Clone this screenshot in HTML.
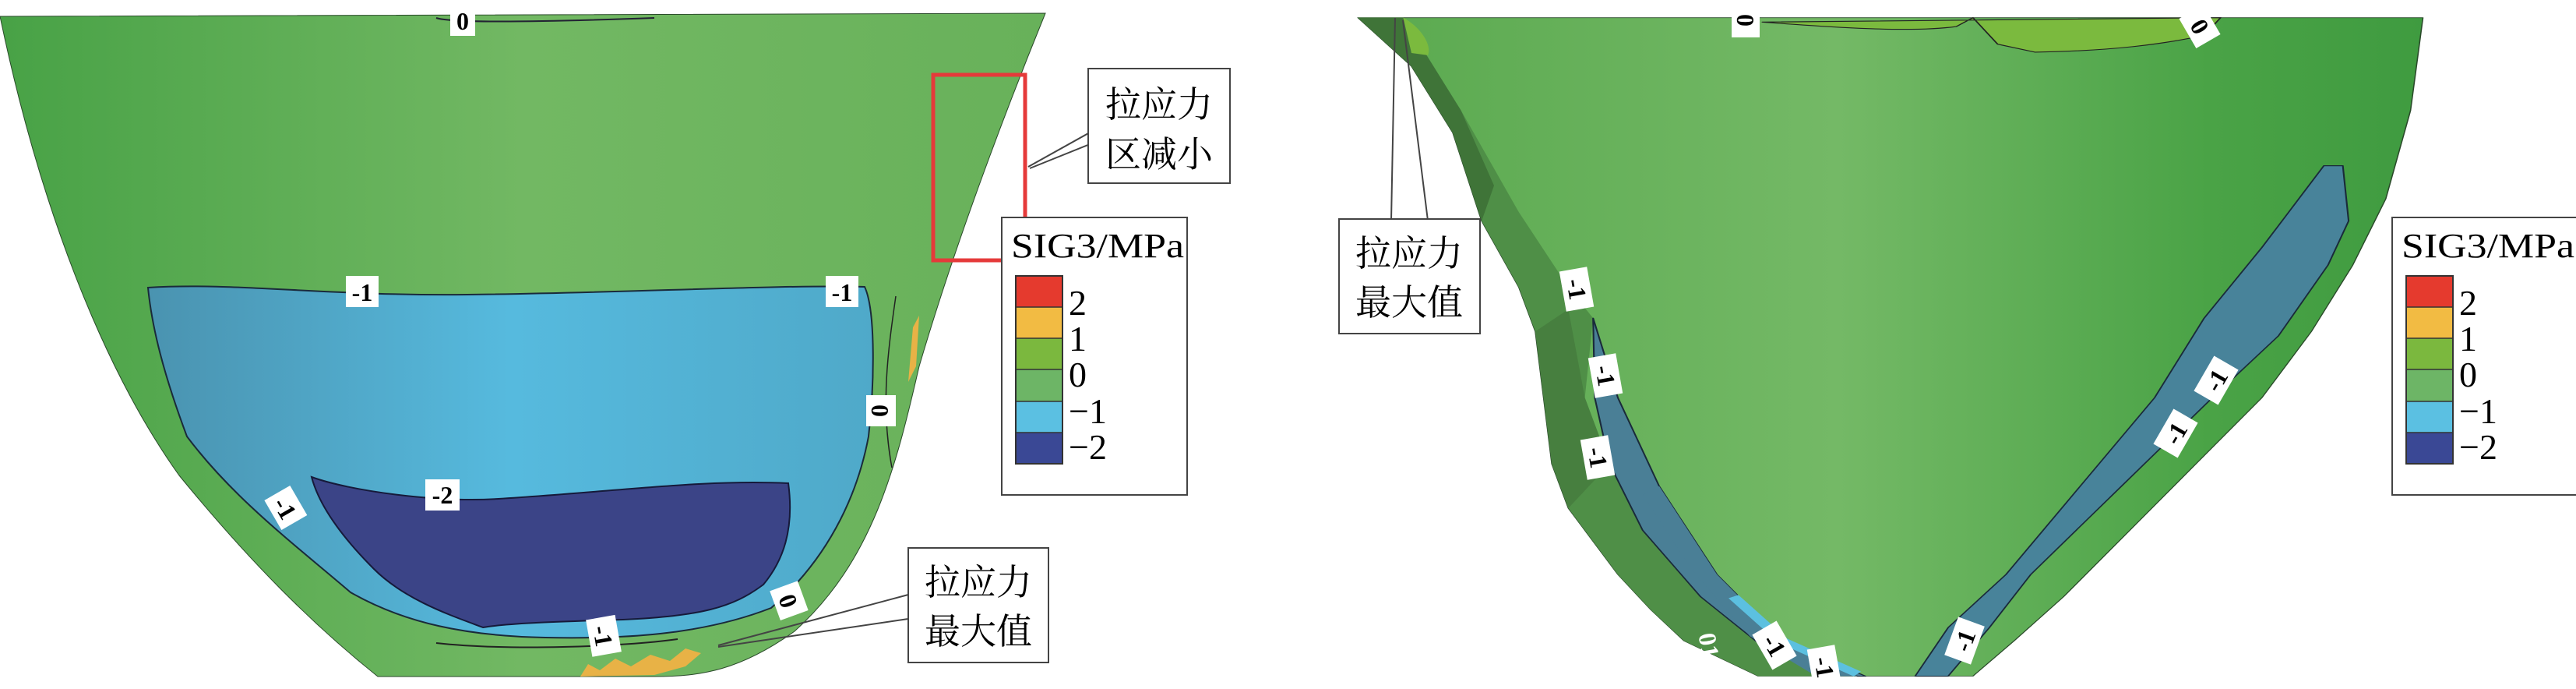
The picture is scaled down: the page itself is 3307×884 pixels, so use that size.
<!DOCTYPE html>
<html><head><meta charset="utf-8"><style>
html,body{margin:0;padding:0;background:#fff;}
svg{display:block;}
text{font-family:"Liberation Serif","Noto Serif CJK SC",serif;}
.cl{font-family:"Liberation Sans",sans-serif;font-size:32px;font-weight:bold;}
</style></head><body>
<svg width="3307" height="884" viewBox="0 0 3307 884" xmlns="http://www.w3.org/2000/svg">
<defs>
<linearGradient id="gL" x1="0" x2="1" y1="0" y2="0">
<stop offset="0" stop-color="#48a246"/><stop offset="0.5" stop-color="#72b863"/><stop offset="1" stop-color="#68b15a"/></linearGradient>
<linearGradient id="gR" x1="0" x2="1" y1="0" y2="0">
<stop offset="0" stop-color="#5aa94f"/><stop offset="0.45" stop-color="#74b966"/><stop offset="0.8" stop-color="#4aa346"/><stop offset="1" stop-color="#3f9b40"/></linearGradient>
<linearGradient id="bL" x1="0" x2="1" y1="0" y2="0">
<stop offset="0" stop-color="#4a93b0"/><stop offset="0.5" stop-color="#56bade"/><stop offset="1" stop-color="#4fa9c9"/></linearGradient>
</defs>

<!-- LEFT PANEL -->
<path d="M0,21 L1342,17 C1300,120 1230,300 1180,470 C1150,600 1120,720 1020,810 C950,860 900,868 840,868 L485,868 C400,800 320,720 230,610 C130,470 50,260 0,21 Z" fill="url(#gL)" stroke="#2a4a2a" stroke-width="1"/>
<path d="M560,23 C580,30 700,28 840,23" fill="none" stroke="#223" stroke-width="2"/>
<path d="M190,369 C300,362 420,380 600,378 C800,376 1000,365 1110,368 C1125,400 1122,500 1115,560 C1100,640 1060,720 990,780 C900,815 800,820 700,818 C600,816 520,800 450,760 C380,700 300,640 240,560 C210,480 195,420 190,369 Z" fill="url(#bL)" stroke="#1a2a3a" stroke-width="2"/>
<path d="M400,612 C450,630 560,645 640,640 C800,630 900,615 1012,620 C1020,680 1005,720 980,750 C940,780 900,790 800,795 C700,798 650,800 620,805 C580,790 520,770 480,730 C440,690 410,650 400,612 Z" fill="#3b4487" stroke="#161a3a" stroke-width="2"/>
<path d="M560,825 C650,835 800,830 870,820" fill="none" stroke="#222" stroke-width="2"/>
<path d="M745,868 L755,852 L770,860 L790,845 L810,855 L835,840 L860,848 L880,832 L900,838 L880,855 L840,866 Z" fill="#e8b246"/>
<path d="M1172,420 L1180,405 L1176,470 L1166,490 Z" fill="#e8b246"/>
<path d="M1150,380 C1140,450 1130,520 1145,600" fill="none" stroke="#222" stroke-width="1.5"/>
<g class="cl" text-anchor="middle">
<rect x="578" y="6" width="32" height="40" fill="#fff"/><text x="594" y="38">0</text>
<rect x="444" y="354" width="42" height="40" fill="#fff"/><text x="465" y="386">-1</text>
<rect x="1060" y="354" width="42" height="40" fill="#fff"/><text x="1081" y="386">-1</text>
<g transform="translate(1130,527) rotate(90)"><rect x="-20" y="-20" width="40" height="38" fill="#fff"/><text x="0" y="11">0</text></g>
<rect x="546" y="615" width="44" height="40" fill="#fff"/><text x="568" y="646">-2</text>
<g transform="translate(366,652) rotate(60)"><rect x="-22" y="-20" width="44" height="38" fill="#fff"/><text x="0" y="11">-1</text></g>
<g transform="translate(1012,771) rotate(70)"><rect x="-20" y="-20" width="40" height="38" fill="#fff"/><text x="0" y="11">0</text></g>
<g transform="translate(774,816) rotate(80)"><rect x="-24" y="-20" width="48" height="38" fill="#fff"/><text x="0" y="11">-1</text></g>
</g>
<rect x="1198" y="96" width="118" height="238" fill="none" stroke="#e53a3a" stroke-width="5"/>
<line x1="1399" y1="170" x2="1320" y2="214" stroke="#444" stroke-width="2"/>
<line x1="1399" y1="185" x2="1322" y2="216" stroke="#444" stroke-width="2"/>
<rect x="1397" y="88" width="182" height="147" fill="#fff" stroke="#444" stroke-width="2"/>
<text x="1488" y="150" font-size="46" text-anchor="middle">拉应力</text>
<text x="1488" y="214" font-size="46" text-anchor="middle">区减小</text>
<line x1="1166" y1="763" x2="922" y2="828" stroke="#444" stroke-width="2"/>
<line x1="1166" y1="794" x2="922" y2="830" stroke="#444" stroke-width="2"/>
<rect x="1166" y="703" width="180" height="147" fill="#fff" stroke="#444" stroke-width="2"/>
<text x="1256" y="763" font-size="46" text-anchor="middle">拉应力</text>
<text x="1256" y="826" font-size="46" text-anchor="middle">最大值</text>

<!-- RIGHT PANEL (zoom coords) -->
<g transform="translate(1653,0) scale(1.06,0.567)" stroke-linejoin="round">
<path d="M85,40 L1375,40 L1360,250 L1330,450 L1290,600 L1240,750 L1180,900 L1100,1050 L1020,1200 L940,1350 L880,1450 L830,1530 L570,1530 L480,1450 L440,1380 L400,1300 L340,1150 L320,1050 L310,900 L300,750 L280,650 L235,500 L200,300 L150,150 Z" fill="url(#gR)" stroke="#2a4a2a" stroke-width="1.5"/>
<!-- left darker strip -->
<path d="M85,40 L140,40 L210,250 L280,480 L340,650 L370,720 L360,900 L390,1050 L430,1200 L500,1350 L580,1470 L690,1530 L570,1530 L480,1450 L440,1380 L400,1300 L340,1150 L320,1050 L310,900 L300,750 L280,650 L235,500 L200,300 L150,150 Z" fill="#4f8f47"/>
<path d="M85,40 L140,40 L210,250 L250,420 L235,500 L200,300 L150,150 Z" fill="#3f7438"/>
<path d="M300,750 L340,700 L360,900 L390,1050 L340,1150 L320,1050 L310,900 Z" fill="#477f3f"/>
<!-- left blue band -->
<path d="M370,720 L400,900 L450,1100 L520,1300 L600,1450 L700,1530 L690,1530 L580,1470 L500,1350 L430,1200 L390,1050 L372,900 Z" fill="#4a7f96" stroke="#1a2a3a" stroke-width="2"/>
<path d="M450,1100 L520,1300 L600,1450 L690,1530 L640,1530 L560,1440 L490,1290 L430,1120 Z" fill="#4a7f96"/>
<path d="M540,1350 L600,1450 L690,1525" fill="none" stroke="#5cc0e0" stroke-width="14"/>
<!-- right blue band -->
<path d="M1255,375 L1278,375 L1285,500 L1260,600 L1200,760 L1120,900 L1010,1100 L900,1300 L850,1420 L800,1530 L760,1530 L800,1420 L870,1300 L960,1100 L1050,900 L1110,720 L1180,560 Z" fill="#48839a" stroke="#1a2a3a" stroke-width="2"/>
<!-- top light-green zone -->
<path d="M575,50 C650,60 750,75 810,60 L830,40 L860,100 L905,118 C1000,115 1060,100 1110,80 L1130,40 Z" fill="#7bba3e" stroke="#222" stroke-width="2"/>
<path d="M140,40 C160,60 175,100 170,125 L150,120 Z" fill="#7bba3e"/>
</g>
<g class="cl" text-anchor="middle">
<g transform="translate(2241,26) rotate(90)"><rect x="-22" y="-18" width="44" height="36" fill="#fff"/><text x="0" y="11">0</text></g>
<g transform="translate(2824,34) rotate(60)"><rect x="-22" y="-18" width="44" height="36" fill="#fff"/><text x="0" y="11">0</text></g>
<g transform="translate(2024,371) rotate(80)"><rect x="-26" y="-18" width="52" height="36" fill="#fff"/><text x="0" y="11">-1</text></g>
<g transform="translate(2061,482) rotate(80)"><rect x="-26" y="-18" width="52" height="36" fill="#fff"/><text x="0" y="11">-1</text></g>
<g transform="translate(2051,587) rotate(80)"><rect x="-26" y="-18" width="52" height="36" fill="#fff"/><text x="0" y="11">-1</text></g>
<g transform="translate(2845,488) rotate(-60)"><rect x="-26" y="-18" width="52" height="36" fill="#fff"/><text x="0" y="11">-1</text></g>
<g transform="translate(2793,556) rotate(-60)"><rect x="-26" y="-18" width="52" height="36" fill="#fff"/><text x="0" y="11">-1</text></g>
<g transform="translate(2278,828) rotate(60)"><rect x="-26" y="-18" width="52" height="36" fill="#fff"/><text x="0" y="11">-1</text></g>
<g transform="translate(2342,856) rotate(80)"><rect x="-26" y="-18" width="52" height="36" fill="#fff"/><text x="0" y="11">-1</text></g>
<g transform="translate(2522,822) rotate(-70)"><rect x="-26" y="-18" width="52" height="36" fill="#fff"/><text x="0" y="11">-1</text></g>
<g transform="translate(2618,816) rotate(80)"><text x="0" y="11" fill="#fff">0</text></g>
<g transform="translate(2194,828) rotate(80)"><text x="0" y="11" fill="#fff">01</text></g>
</g>
<line x1="1786" y1="283" x2="1791" y2="23" stroke="#444" stroke-width="2"/>
<line x1="1833" y1="283" x2="1801" y2="26" stroke="#444" stroke-width="2"/>
<rect x="1719" y="281" width="181" height="147" fill="#fff" stroke="#444" stroke-width="2"/>
<text x="1809" y="341" font-size="46" text-anchor="middle">拉应力</text>
<text x="1809" y="404" font-size="46" text-anchor="middle">最大值</text>

<!-- LEGENDS -->
<g id="leg">
<rect x="1286" y="279" width="238" height="356" fill="#fff" stroke="#444" stroke-width="2"/>
<text x="1298" y="330" font-size="44" textLength="222" lengthAdjust="spacingAndGlyphs">SIG3/MPa</text>
<rect x="1304" y="354" width="60" height="40" fill="#e53a2e"/>
<rect x="1304" y="394" width="60" height="40" fill="#f2bb43"/>
<rect x="1304" y="434" width="60" height="40" fill="#7bb83e"/>
<rect x="1304" y="474" width="60" height="41" fill="#6db566"/>
<rect x="1304" y="515" width="60" height="40" fill="#5bc0e2"/>
<rect x="1304" y="555" width="60" height="40" fill="#3a4895"/>
<rect x="1304" y="354" width="60" height="241" fill="none" stroke="#333" stroke-width="2"/>
<g stroke="#333" stroke-width="1.5"><line x1="1304" y1="394" x2="1364" y2="394"/><line x1="1304" y1="434" x2="1364" y2="434"/><line x1="1304" y1="474" x2="1364" y2="474"/><line x1="1304" y1="515" x2="1364" y2="515"/><line x1="1304" y1="555" x2="1364" y2="555"/></g>
<g font-size="46"><text x="1372" y="404">2</text><text x="1372" y="450">1</text><text x="1372" y="496">0</text><text x="1372" y="543">−1</text><text x="1372" y="589">−2</text></g>
</g>
<use href="#leg" transform="translate(1785,0)"/>
</svg>
</body></html>
